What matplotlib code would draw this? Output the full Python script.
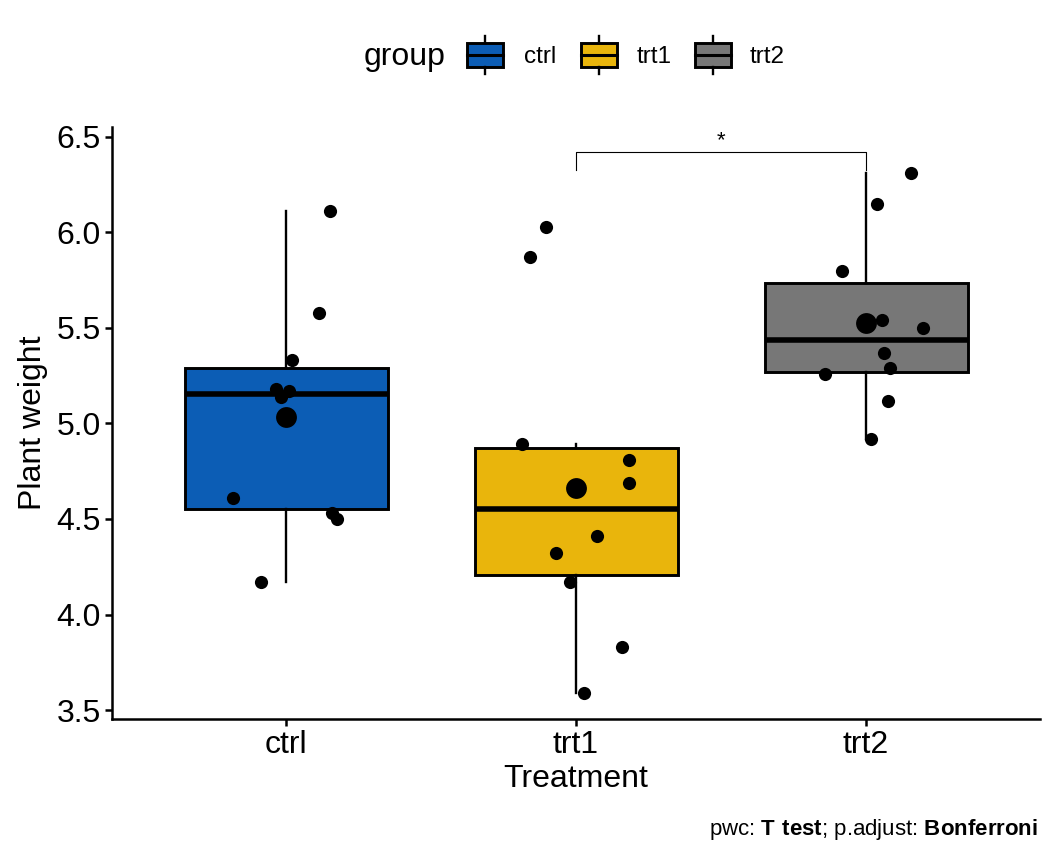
import matplotlib
matplotlib.use("Agg")
import matplotlib.pyplot as plt
import numpy as np
from matplotlib.patches import Rectangle
from matplotlib.lines import Line2D

plt.rcParams["font.family"] = ["Liberation Sans", "DejaVu Sans"]
plt.rcParams["mathtext.fontset"] = "custom"
plt.rcParams["mathtext.rm"] = "Liberation Sans"
plt.rcParams["mathtext.bf"] = "Liberation Sans:bold"

# PlantGrowth data
groups = ["ctrl", "trt1", "trt2"]
colors = ["#0C5DB5", "#E9B50C", "#777777"]
ctrl_w = [4.17, 5.58, 5.18, 6.11, 4.50, 4.61, 5.17, 4.53, 5.33, 5.14]
trt1_w = [4.81, 4.17, 4.41, 3.59, 5.87, 3.83, 6.03, 4.89, 4.32, 4.69]
trt2_w = [6.31, 5.12, 5.54, 5.50, 5.37, 5.29, 4.92, 6.15, 5.80, 5.26]
# horizontal jitter
ctrl_jit = [-0.086, 0.114, -0.034, 0.152, 0.176, -0.183, 0.010, 0.159, 0.021, -0.017]
trt1_jit = [0.183, -0.021, 0.072, 0.028, -0.159, 0.159, -0.103, -0.186, -0.069, 0.183]
trt2_jit = [0.155, 0.076, 0.055, 0.197, 0.062, 0.083, 0.017, 0.038, -0.083, -0.141]
sig_pair = (2, 3)
sig_label = "*"
yticks = [3.5, 4.0, 4.5, 5.0, 5.5, 6.0, 6.5]

W, H = 1056, 864
fig = plt.figure(figsize=(W / 100, H / 100), dpi=100)
ax = fig.add_axes([112 / W, 1 - 719 / H, (1040 - 112) / W, (719 - 127) / H])

data = [ctrl_w, trt1_w, trt2_w]
jits = [ctrl_jit, trt1_jit, trt2_jit]
pos = np.arange(1, 4)

bp = ax.boxplot(data, positions=pos, widths=0.7, patch_artist=True,
                showfliers=False, whis=1.5,
                boxprops=dict(edgecolor="black", linewidth=2.1),
                medianprops=dict(color="black", linewidth=4.0, solid_capstyle="butt"),
                whiskerprops=dict(color="black", linewidth=1.7),
                capprops=dict(linewidth=0))
for patch, c in zip(bp["boxes"], colors):
    patch.set_facecolor(c)

for p, vals, jit in zip(pos, data, jits):
    ax.scatter(p + np.array(jit), vals, s=90, color="black", zorder=5, lw=0)
    ax.scatter([p], [np.mean(vals)], s=225, color="black", zorder=6, lw=0)

# significance bracket
y_top, y_tick = 6.421, 6.327
x1, x2 = sig_pair
ax.plot([x1, x1, x2, x2], [y_tick, y_top, y_top, y_tick], color="black",
        lw=0.8, clip_on=False)
ax.text((x1 + x2) / 2, y_top + 0.005, sig_label, ha="center", va="bottom",
        fontsize=16)

ax.set_xlim(0.4, 3.6)
ax.set_ylim(3.453, 6.552)
ax.set_xticks(pos)
ax.set_xticklabels(groups)
ax.set_yticks(yticks)
ax.set_yticklabels([f"{v:.1f}" for v in yticks])
for s in ["top", "right"]:
    ax.spines[s].set_visible(False)
for s in ["left", "bottom"]:
    ax.spines[s].set_linewidth(1.8)
ax.tick_params(axis="both", labelsize=23, length=5, width=1.8, color="black",
               pad=3)
ax.set_xlabel("Treatment", fontsize=23, labelpad=3)
ax.set_ylabel("Plant weight", fontsize=23, labelpad=6)


# legend at top
def fx(x):
    return x / W


def fy(y):
    return 1 - y / H


fig.text(fx(364), fy(57), "group", fontsize=23, ha="left", va="center")
key_x = [467, 581, 695]
lab_x = [524, 637, 750]
for kx, lx, g, c in zip(key_x, lab_x, groups, colors):
    for ya, yb in [(36, 43), (67, 74)]:
        fig.add_artist(Line2D([fx(kx + 18)] * 2, [fy(ya), fy(yb)], color="black",
                              lw=1.7, transform=fig.transFigure))
    fig.add_artist(Rectangle((fx(kx), fy(67)), fx(36), 24 / H, facecolor=c,
                             edgecolor="black", lw=2.1, transform=fig.transFigure))
    fig.add_artist(Line2D([fx(kx), fx(kx + 36)], [fy(55)] * 2, color="black",
                          lw=2.2, transform=fig.transFigure))
    fig.text(fx(lx), fy(57), g, fontsize=17.5, ha="left", va="center")

fig.text(fx(1038), fy(830), r"pwc: $\bf{T\ test}$; p.adjust: $\bf{Bonferroni}$",
         fontsize=16, ha="right", va="center")

fig.savefig("out.png", dpi=100)
